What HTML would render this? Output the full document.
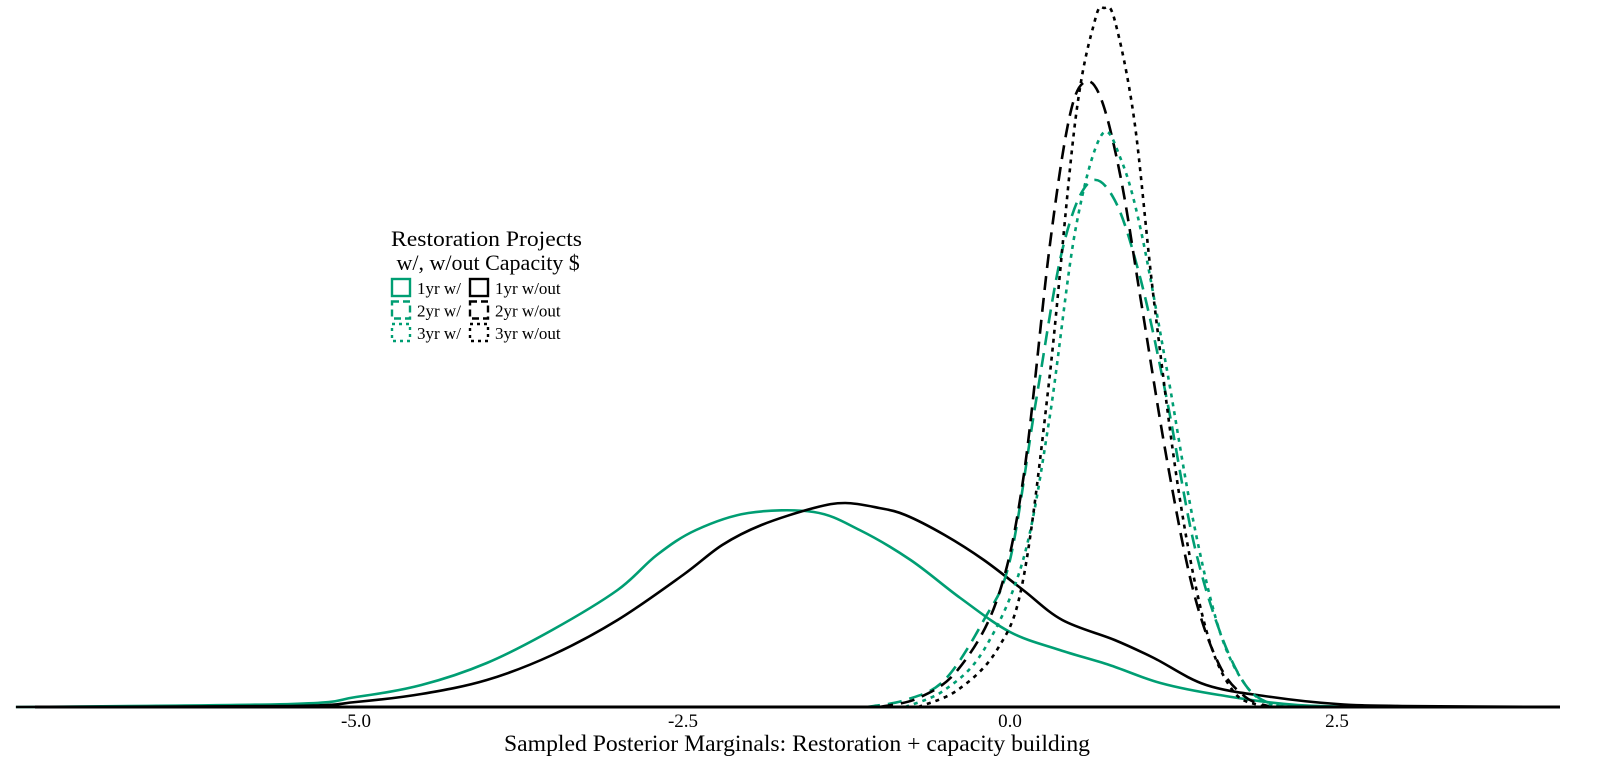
<!DOCTYPE html>
<html><head><meta charset="utf-8"><style>
body{margin:0;background:#fff}
svg{display:block;font-family:"Liberation Serif",serif}
</style></head><body>
<svg id="chart" width="1600" height="774" viewBox="0 0 1600 774">
<g id="curves"></g>
<line x1="35" y1="707" x2="1560" y2="707" stroke="#000" stroke-width="3"/>
<g id="ticks"></g>
<text x="797" y="751" font-size="23" text-anchor="middle" textLength="586" lengthAdjust="spacingAndGlyphs">Sampled Posterior Marginals: Restoration + capacity building</text>
<g>
<text x="391" y="246" font-size="22" textLength="191" lengthAdjust="spacingAndGlyphs">Restoration Projects</text>
<text x="391" y="270" font-size="22" xml:space="preserve"> w/, w/out Capacity $</text>
<g id="legend-keys"></g>
</g>
</svg>
<script>
const GREEN="#009E73";
const xTicks=[-5.0,-2.5,0.0,2.5];
const tickLabels=["-5.0","-2.5","0.0","2.5"];
const s1wX=[-7.6,-5.5,-5.0,-4.5,-4.0,-3.5,-3.0,-2.7,-2.4,-2.0,-1.5,-1.15,-0.76,-0.38,0,0.38,0.76,1.15,1.6,2.2,3.0,4.2];
const s1wY=[0,.03,.10,.22,.44,.77,1.17,1.52,1.77,1.94,1.95,1.77,1.47,1.09,.75,.57,.42,.24,.12,.02,0,0];
const s1oX=[-7.6,-5.5,-5.0,-4.5,-4.0,-3.5,-3.0,-2.5,-2.2,-1.9,-1.5,-1.26,-1.0,-0.8,-0.5,-0.2,0.1,0.4,0.8,1.1,1.5,2.0,2.5,3.0,4.2];
const s1oY=[0,.01,.05,.13,.27,.52,.87,1.32,1.62,1.82,1.99,2.04,1.99,1.92,1.72,1.47,1.17,.87,.67,.49,.22,.10,.03,.01,0];
const s2wX=[-1.1,-0.8,-0.5,-0.2,0,0.2,0.4,0.6,0.8,1.0,1.2,1.4,1.6,1.8,2.0,2.2];
const s2wY=[0,.07,.27,.87,1.47,3.07,4.57,5.24,5.07,4.27,3.07,1.67,.77,.22,.03,0];
const s2oX=[-1.0,-0.7,-0.4,-0.1,0.1,0.3,0.45,0.57,0.7,0.85,1.0,1.2,1.4,1.6,1.8,2.0];
const s2oY=[0,.09,.37,1.07,2.27,4.57,5.87,6.25,6.07,5.27,4.07,2.47,1.17,.42,.10,0];
const s3wX=[-0.8,-0.5,-0.2,0.1,0.3,0.5,0.7,0.85,1.0,1.2,1.4,1.6,1.8,2.0,2.2];
const s3wY=[0,.17,.57,1.47,2.87,4.77,5.72,5.47,4.77,3.37,1.87,.77,.22,.02,0];
const s3oX=[-0.7,-0.4,-0.1,0.1,0.3,0.5,0.65,0.72,0.8,0.95,1.1,1.3,1.5,1.7,1.9,2.1];
const s3oY=[0,.17,.57,1.27,3.27,5.87,6.87,6.99,6.87,5.87,4.07,2.07,.77,.17,.02,0];

const xs=v=>1010+v*130.8;
const ys=v=>707-v*100;
const NS="http://www.w3.org/2000/svg";
function pathFor(X,Y){
  const p=X.map((x,i)=>[xs(x),ys(Y[i])]);
  let d="M"+p[0][0]+","+p[0][1];
  for(let i=0;i<p.length-1;i++){
    const p0=p[Math.max(0,i-1)],p1=p[i],p2=p[i+1],p3=p[Math.min(p.length-1,i+2)];
    const c1=[p1[0]+(p2[0]-p0[0])/6,p1[1]+(p2[1]-p0[1])/6];
    const c2=[p2[0]-(p3[0]-p1[0])/6,p2[1]-(p3[1]-p1[1])/6];
    d+=`C${c1[0]},${c1[1]} ${c2[0]},${c2[1]} ${p2[0]},${p2[1]}`;
  }
  return d;
}
const series=[
 [s1wX,s1wY,GREEN,"","curve-1yr-with"],
 [s1oX,s1oY,"#000","","curve-1yr-without"],
 [s2wX,s2wY,GREEN,"14 8","curve-2yr-with"],
 [s2oX,s2oY,"#000","14 8","curve-2yr-without"],
 [s3wX,s3wY,GREEN,"4 5","curve-3yr-with"],
 [s3oX,s3oY,"#000","4 5","curve-3yr-without"]
];
const g=document.getElementById("curves");
series.forEach(s=>{
  const el=document.createElementNS(NS,"path");
  
  
  el.setAttribute("d",pathFor(s[0],s[1]));
  el.setAttribute("fill","none");
  el.setAttribute("stroke",s[2]);
  el.setAttribute("stroke-width","2.6");
  if(s[3])el.setAttribute("stroke-dasharray",s[3]);
  g.appendChild(el);
});
const tg=document.getElementById("ticks");
xTicks.forEach((t,i)=>{
  const el=document.createElementNS(NS,"text");
  
  
  el.setAttribute("x",xs(t));el.setAttribute("y",727);
  el.setAttribute("font-size","19");el.setAttribute("text-anchor","middle");
  el.textContent=tickLabels[i];
  tg.appendChild(el);
});
const legendLabels=["1yr w/","1yr w/out","2yr w/","2yr w/out","3yr w/","3yr w/out"];
const lg=document.getElementById("legend-keys");
legendLabels.forEach((lab,i)=>{
  const col=i%2, row=Math.floor(i/2);
  const x=col===0?392:470, y=279+row*22.5;
  const color=col===0?GREEN:"#000";
  const dash=["","7 4","3 4"][row];
  const r=document.createElementNS(NS,"rect");
  
  
  r.setAttribute("x",x);r.setAttribute("y",y);r.setAttribute("width",18);r.setAttribute("height",17);
  r.setAttribute("fill","none");r.setAttribute("stroke",color);r.setAttribute("stroke-width","2.4");
  if(dash)r.setAttribute("stroke-dasharray",dash);
  lg.appendChild(r);
  const t=document.createElementNS(NS,"text");
  
  
  t.setAttribute("x",x+25);t.setAttribute("y",y+15);t.setAttribute("font-size","17");
  t.textContent=lab;
  lg.appendChild(t);
});
</script>
</body></html>
